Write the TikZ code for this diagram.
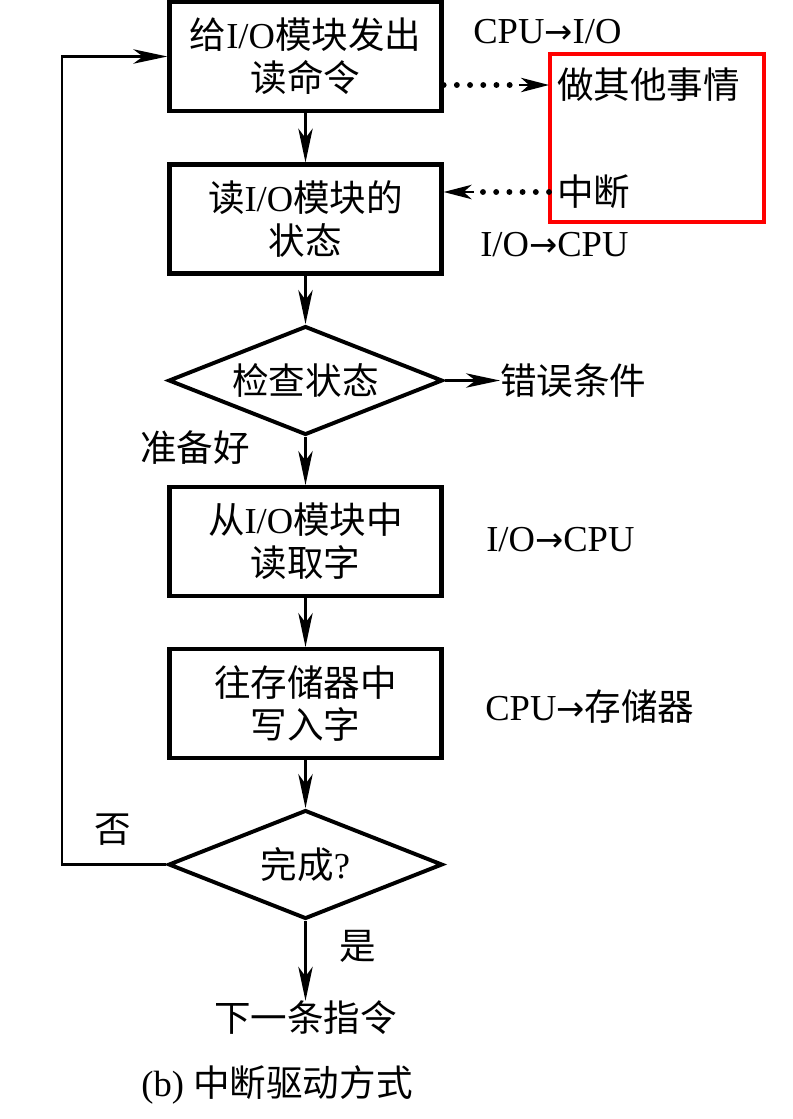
\documentclass[tikz,border=0pt]{standalone}
\usepackage{fontspec}
\setmainfont{Liberation Serif}
\newfontfamily\zh{Noto Sans CJK SC}
\newfontfamily\arw{DejaVu Sans}
\newcommand\toarrow{{\arw\fontsize{24}{30}\selectfont →}}
\usetikzlibrary{arrows.meta}
\usetikzlibrary{positioning}
\usetikzlibrary{shapes.geometric}

\begin{document}
\begin{tikzpicture}[
	x=0.025cm, y=-0.025cm,
	every node/.style={font=\fontsize{26}{30.5}\selectfont},
  > = {Stealth[length=0.85cm,width=0.36cm,inset=0.24cm]},
  block/.style = {draw,line width=3pt,minimum width=6.8cm,minimum height=2.72cm,align=center,inner sep=0pt},
  decide/.style = {draw,diamond,line width=2.8pt,minimum width=6.85cm,minimum height=2.72cm,shape aspect=2.5,inner sep=0pt},
  flow/.style = {->,line width=1.6pt},
  dots/.style = {line width=4.2pt,line cap=round,dash pattern=on 0pt off 0.33cm},
  dottip/.style = {-{Stealth[length=0.7cm,width=0.36cm,inset=0.2cm]},line width=1.6pt}
  ]
	\useasboundingbox (0,0) rectangle (793,1119);

	\node[block] (send) at (305.5,56.5) {{\zh 给}I/O{\zh 模块发出}\\{\zh 读命令}};
	\node[block] (status) at (305.5,219) {{\zh 读}I/O{\zh 模块的}\\{\zh 状态}};
	\node[decide] (check) at (305.5,380.5) {\zh 检查状态};
	\node[block] (fetch) at (305.5,541.5) {{\zh 从}I/O{\zh 模块中}\\{\zh 读取字}};
	\node[block] (store) at (305.5,703.5) {{\zh 往存储器中}\\{\zh 写入字}};
	\node[decide] (done) at (305.5,864.5) {{\zh 完成}?};
	\node[inner sep=0pt] (next) at (305.5,1018) {\zh 下一条指令};

	\node[anchor=west,inner sep=0pt] (cmd) at (473,32) {CPU\toarrow I/O};
	\node[anchor=west,inner sep=0pt] (ack) at (480,245) {I/O\toarrow CPU};
	\node[anchor=west,inner sep=0pt] (rd) at (486,540) {I/O\toarrow CPU};
	\node[anchor=west,inner sep=0pt] (wr) at (485,707) {CPU\toarrow{\zh 存储器}};
	\node[anchor=west,inner sep=0pt] (err) at (500,380.5) {\zh 错误条件};

	\node[anchor=west,inner xsep=0.2cm] (busy) at (549,85) {\zh 做其他事情};
	\node[anchor=west,inner xsep=0.2cm] (intr) at (549,192) {\zh 中断};
	\draw[red,line width=2.2pt] (550,54) rectangle (764,222);

	\node (ready) at (195,448) {\zh 准备好};
	\node (no) at (113,830) {\zh 否};
	\node (yes) at (358,946) {\zh 是};
	\node (caption) at (277,1085) {(b) {\zh 中断驱动方式}};

	\draw[flow] (send) -- (status);
	\draw[flow] (status) -- (check);
	\draw[flow] (check) -- (fetch);
	\draw[flow] (fetch) -- (store);
	\draw[flow] (store) -- (done);
	\draw[flow] (done) -- (next);
	\draw[flow] (check) -- (err);

	\coordinate (back) at (62,864.5);
	\draw[flow] (done.west) -- (back) |- (send.west);

	% dotted hand-over to the interrupt side
	\coordinate (start) at (send.east |- busy.west);
	\coordinate[left=0.75cm of busy.west] (busytail);
	\draw[dots] (start) -- (busytail);
	\draw[dottip] (busytail) -- (busy.west);

	\coordinate (gate) at (status.east |- intr.west);
	\coordinate[right=0.75cm of gate] (gatetail);
	\draw[dots] (intr.west) -- (gatetail);
	\draw[dottip] (gatetail) -- (gate);

\end{tikzpicture}
\end{document}
